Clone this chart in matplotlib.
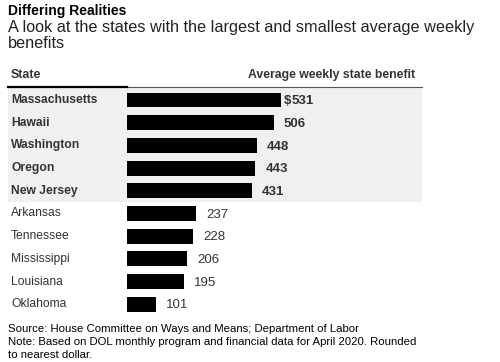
import matplotlib
matplotlib.use("Agg")
import matplotlib.pyplot as plt
from matplotlib.lines import Line2D
from matplotlib.patches import Rectangle
import matplotlib.transforms as mtransforms

plt.rcParams["font.family"] = ["Liberation Sans", "DejaVu Sans"]

states = ["Massachusetts", "Hawaii", "Washington", "Oregon", "New Jersey",
          "Arkansas", "Tennessee", "Mississippi", "Louisiana", "Oklahoma"]
benefits = [531, 506, 448, 443, 431, 237, 228, 206, 195, 101]
n_top = 5  # largest five are bold on a gray band

W, H = 500, 362
TEXT = "#333333"


def fx(px):
    return px / W


def fy(py):
    return 1 - py / H


fig = plt.figure(figsize=(5.0, 3.62), dpi=100)

# bar area: x from 127px, 0.29 px per dollar; rows 22.7px apart
row_px = 22.7
top_px, bot_px = 88, 316
left_px, right_px = 127, 422
px_per_unit = 0.29
ax = fig.add_axes([fx(left_px), fy(bot_px), fx(right_px - left_px), (bot_px - top_px) / H])
first_c = 100
ax.set_ylim((bot_px - first_c) / row_px, -(first_c - top_px) / row_px)
ax.set_xlim(0, (right_px - left_px) / px_per_unit)
ax.axis("off")

# gray band behind the top five (figure x, data y)
trans = mtransforms.blended_transform_factory(fig.transFigure, ax.transData)
y0 = ax.get_ylim()[1]
band = Rectangle((fx(8), y0), fx(422) - fx(8), (n_top - 0.5) - y0,
                 transform=trans, facecolor="#f0f0f0", edgecolor="none",
                 zorder=0, clip_on=False)
ax.add_patch(band)

ypos = list(range(len(states)))
ax.barh(ypos, benefits, height=0.66, color="black", zorder=2)

for i, (s, v) in enumerate(zip(states, benefits)):
    weight = "bold" if i < n_top else "normal"
    ax.text(fx(11), i, s, transform=trans, fontsize=8.7, fontweight=weight,
            color=TEXT, va="center", ha="left", clip_on=False)
    ax.annotate(f"{v}", (v, i), xytext=(7.3, -0.8), textcoords="offset points",
                fontsize=9.5, fontweight=weight, color=TEXT, va="center", ha="left")
    if i == 0:
        ax.annotate("$", (v, i), xytext=(7.3, -0.8), textcoords="offset points",
                    fontsize=9.5, fontweight=weight, color=TEXT, va="center", ha="right")

# header
fig.text(fx(11), fy(78), "State", fontsize=8.9, fontweight="bold", color=TEXT, va="baseline")
fig.text(fx(415), fy(78), "Average weekly state benefit", fontsize=8.8, fontweight="bold",
         color=TEXT, va="baseline", ha="right")
fig.add_artist(Line2D([fx(127), fx(422)], [fy(87), fy(87)], color="#555555", lw=0.8))
fig.add_artist(Line2D([fx(8), fx(127)], [fy(87), fy(87)], color="black", lw=1.6))

# title block
fig.text(fx(8), fy(15), "Differing Realities", fontsize=10, fontweight="bold",
         color="black", va="baseline")
fig.text(fx(8), fy(32), "A look at the states with the largest and smallest average weekly",
         fontsize=11.7, color="#222222", va="baseline")
fig.text(fx(8), fy(48), "benefits", fontsize=11.7, color="#222222", va="baseline")

# footnotes
fig.text(fx(8), fy(332), "Source: House Committee on Ways and Means; Department of Labor",
         fontsize=8.2, color="black", va="baseline")
fig.text(fx(8), fy(345), "Note: Based on DOL monthly program and financial data for April 2020. Rounded",
         fontsize=8.2, color="black", va="baseline")
fig.text(fx(8), fy(358), "to nearest dollar.", fontsize=8.2, color="black", va="baseline")

fig.savefig("out.png", dpi=100)
